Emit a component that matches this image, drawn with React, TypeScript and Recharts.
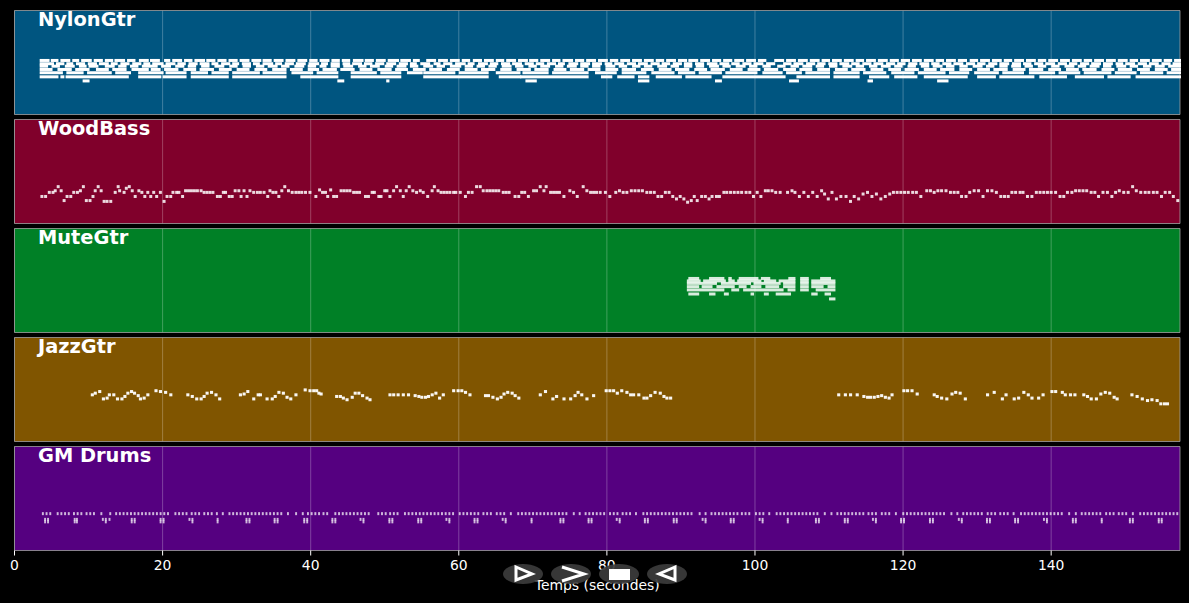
import React from 'react'
import { ScatterChart, Scatter, XAxis, YAxis, CartesianGrid, ReferenceArea } from 'recharts'

const T_MAX = 157.4
const PLOT_W = 1165.5
const PLOT_H = 104
const PX_PER_SEC = PLOT_W / T_MAX
const TICKS = [0, 20, 40, 60, 80, 100, 120, 140]

// nylon guitar, runs of notes per pitch as [start, end] in seconds
const nylon66 = [[3.4,4.6],[4.9,5.8],[6.2,7.4],[7.8,8.6],[9,10.3],[10.7,11.8],[12.2,13.2],[13.5,14.8],[15.2,16.2],[16.8,18],[18.3,19.5],[20.2,20.9],[21.3,22.5],[22.9,23.9],[24.3,25.6],[25.9,27],[27.4,28.5],[28.9,30],[30.4,31.6],[32,33.2],[33.5,34.6],[35,36.2],[36.6,37.8],[38.2,39.4],[39.8,40.8],[41.2,42.4],[42.8,43.8],[44.2,45.2],[45.7,47],[47.3,48.4],[48.8,50],[50.4,51.8],[52.1,53.4],[53.8,54.6],[55.6,56.8],[57.2,58.4],[58.8,60],[60.4,61.4],[61.9,63],[63.4,64.6],[65,66],[66.4,67.6],[68,69.2],[69.5,70.6],[71,72.2],[72.6,73.6],[74,75.3],[75.7,76.8],[77.2,78.4],[78.8,80],[80.4,81.4],[81.8,83],[83.4,84.6],[85,86.2],[86.6,87.6],[88,89.2],[89.6,90.7],[91,92.2],[92.6,93.8],[94.2,95.3],[95.7,96.8],[97.2,98.4],[98.8,100],[100.4,101.4],[102.6,103.8],[104.2,105.4],[105.8,107],[107.4,108.6],[109,110],[110.4,111.6],[112,113.2],[113.6,114.6],[115,116.2],[116.6,117.8],[118.2,119.3],[119.7,120.8],[121.2,122.4],[122.8,124],[124.4,125.4],[125.8,127],[127.4,128.5],[129,130],[130.4,131.6],[132,133.2],[133.6,134.6],[135,136.2],[136.6,137.8],[138.2,139.2],[139.6,140.8],[141.2,142.4],[142.8,144],[144.4,145.4],[145.8,147],[147.4,148.6],[149,150.2],[150.6,151.6],[152,153.2],[153.6,154.8],[155.2,156.2],[156.6,157.4]]
const nylon62 = [[3.4,5.2],[5.6,6.6],[7,7.8],[8.3,9.4],[9.9,11],[11.4,12.6],[13,13.8],[14.3,15.4],[15.9,17],[17.4,18.2],[18.6,20],[20.4,21.6],[22,23],[23.5,24.6],[25,26.2],[26.6,27.4],[27.9,29],[29.4,30.2],[30.7,31.8],[32.2,33],[33.5,34.8],[35.2,36],[36.5,37.6],[38,39.2],[39.7,41],[41.4,42.2],[42.7,43.8],[44.3,45.2],[45.6,46.8],[47.2,48.2],[48.7,49.8],[50.2,51.4],[51.9,53],[53.4,54.2],[54.8,56],[56.6,57.4],[57.9,59],[59.5,60.8],[61.2,62],[62.6,63.8],[64.2,65.2],[65.7,66.8],[67.2,68.4],[68.9,70],[70.4,71.4],[71.9,73],[73.4,74.2],[74.8,76],[76.4,77.6],[78,79.2],[79.7,80.6],[81,82.2],[82.7,83.8],[84.2,85.4],[85.9,87],[87.4,88.4],[88.9,90],[90.4,91.4],[91.9,93],[93.5,94.8],[95.2,96.4],[96.8,97.8],[98.3,99.4],[99.8,101],[101.5,102.6],[103.8,104.8],[105.2,106.4],[106.9,108],[108.4,109.4],[109.9,111],[111.4,112.6],[113,114],[114.5,115.6],[116,117.2],[117.7,118.8],[119.2,120.2],[120.7,121.8],[122.2,123.4],[123.8,124.8],[125.3,126.4],[126.8,128],[128.5,129.6],[130,131],[131.5,132.6],[133,134.2],[134.7,135.8],[136.2,137.2],[137.7,138.8],[139.2,140.4],[140.9,142],[142.4,143.4],[143.9,145],[145.4,146.6],[147,148.2],[148.7,149.6],[150,151.2],[151.7,152.8],[153.2,154.4],[154.9,156],[156.4,157.4]]
const nylon59 = [[3.4,4.4],[5,6],[6.8,8],[8.7,9.6],[10,11.2],[12.2,13.4],[14,15],[15.6,16.6],[17.2,19.2],[19.8,21],[21.7,22.8],[23.4,24.4],[25.2,26.2],[27,28.2],[29,30],[30.8,31.8],[32.6,33.6],[34.2,35.4],[36,37],[37.8,39],[39.6,40.6],[41.2,42],[42.7,43.8],[44.4,45.6],[46.4,47.4],[48,49.2],[50,51],[51.6,52.8],[53.4,54.4],[55.2,56.4],[57,58],[58.8,60.2],[60.8,61.8],[62.4,63.4],[64,65],[65.8,67],[67.6,68.6],[69.4,70.4],[71,72.2],[73,74],[74.6,75.8],[76.4,77.4],[78,79],[79.8,81],[81.6,82.6],[83.4,84.4],[85,86],[86.8,88],[88.6,89.6],[90.4,91.4],[92,93],[93.8,95],[95.6,96.6],[97.4,98.6],[99.2,100.2],[101,102],[103,104],[104.8,105.8],[106.4,107.6],[108.2,109.2],[110,111],[111.8,113],[113.6,114.6],[115.4,116.4],[117,118.2],[118.8,119.8],[120.6,121.6],[122.4,123.4],[124,125.2],[125.8,126.8],[127.6,128.6],[129.4,130.6],[131.2,132.2],[133,134],[134.6,135.8],[136.4,137.4],[138.2,139.2],[140,141],[141.8,143],[143.6,144.6],[145.2,146.4],[147,148],[148.8,150],[150.6,151.6],[152.4,153.4],[154,155.2],[155.8,157.4]]
const nylon55 = [[3.4,5],[5.8,7.6],[8.2,10],[11,12.6],[13.2,15],[15.8,18],[18.4,19.6],[20.2,22],[22.8,24.4],[25,26.8],[27.6,29.2],[30,31.6],[32.4,34],[34.8,36.6],[37.2,38.8],[39.6,41],[41.6,43.4],[44,45.8],[46.6,48.2],[49,50.8],[51.4,53],[53.8,55.4],[56,57.6],[58.4,60],[60.8,62.4],[63,64.8],[65.6,67],[67.8,69.6],[70.2,72],[72.8,74.4],[75,76.8],[77.4,79],[79.8,81.4],[82,83.8],[84.6,86.2],[87,88.6],[89.2,91],[91.8,93.4],[94,95.8],[96.6,98.2],[99,100.6],[101.2,103],[103.8,105.4],[106,107.6],[108.4,110],[110.8,112.4],[113,114.8],[115.6,117.2],[118,119.6],[120.2,122],[122.8,124.4],[125,126.8],[127.6,129.2],[130,131.6],[132.2,134],[134.8,136.4],[137,138.8],[139.6,141.2],[142,143.6],[144.2,146],[146.8,148.4],[149,150.8],[151.6,153.2],[154,155.6],[156.2,157.4]]
const nylon51 = [[3.4,6.4],[7,9.2],[9.8,13],[13.6,15.6],[16.7,20],[20.4,23.1],[23.8,26],[26.6,28.8],[29.4,33],[33.5,36.6],[37.4,40.2],[40.8,43.6],[45.4,48.8],[49.4,52.1],[53,55],[55.2,59.4],[60,63.9],[65,68.2],[68.6,72],[72.6,77.4],[78.4,81.2],[82,85.2],[86,89],[89.6,91.8],[92.4,95.4],[96,100.2],[101,103.6],[104.2,106.2],[106.8,110],[110.6,114],[114.6,117.6],[118.4,121.4],[122,125.6],[126.2,128.8],[129.6,132.8],[133.4,136.2],[137,140.4],[141,143.8],[144.4,148],[148.6,151.4],[152,155],[155.6,157.4]]
const nylon46 = [[3.4,5.8],[6.2,6.6],[6.9,15.3],[16.7,19.7],[20,23.1],[23.8,28.8],[29.4,36.6],[38.6,43.6],[45.4,52.1],[55.2,63.9],[65.4,68.3],[68.3,77.4],[79.2,80.6],[81.4,83.6],[84.2,85.6],[86.6,90],[90.6,94],[95.6,104],[105.6,110],[110.6,114],[115.4,118],[118.8,121.8],[122.8,128.6],[130,132.4],[133,137.6],[138.4,142],[143.2,147],[147.6,150.6],[151.4,157.4]]
const nylon41 = [[9.2,10],[43.6,44.4],[50.2,50.5],[69,70.4],[84.2,85.6],[94.6,95.4],[104.6,105.8],[115.2,115.8],[124.6,126]]

// wood bass, [time, pitch]
const bassNotes = [[3.5,33],[4,33],[4.5,38],[5,38],[5.3,40],[5.7,45],[6.1,40],[6.5,28],[6.9,33],[7.4,33],[7.8,38],[8.3,38],[8.7,40],[9.1,45],[9.5,28],[10,28],[10.4,33],[10.7,40],[11.1,45],[11.5,40],[11.9,27],[12.3,27],[12.8,27],[13.4,38],[13.8,45],[14,40],[14.6,38],[14.9,43],[15.3,45],[15.7,40],[16.1,33],[16.6,40],[17,38],[17.4,33],[17.8,38],[18.2,33],[18.6,38],[19,33],[19.5,38],[20,27],[20.4,33],[20.9,33],[21.2,38],[21.7,38],[22,38],[22.5,33],[22.9,40],[23.3,40],[23.7,40],[24.1,40],[24.5,40],[25,40],[25.4,38],[25.8,38],[26.2,38],[26.6,38],[27.2,33],[27.6,33],[28,38],[28.3,38],[28.8,33],[29.2,33],[29.6,40],[30.1,40],[30.4,33],[30.8,40],[31.2,33],[31.6,40],[32.1,38],[32.6,38],[33,38],[33.5,38],[34,33],[34.3,40],[34.7,38],[35.1,38],[35.5,33],[35.9,40],[36.3,45],[36.8,40],[37.3,38],[37.8,38],[38.2,38],[38.6,38],[39.1,38],[39.7,38],[40.5,33],[41,41],[41.4,38],[41.8,38],[42.1,33],[42.5,41],[42.9,33],[43.3,33],[43.9,40],[44.3,40],[44.7,40],[45.1,40],[45.6,38],[46,38],[46.4,38],[47.2,33],[47.6,33],[48.1,38],[48.4,38],[49,33],[49.3,33],[49.8,40],[50.1,40],[50.5,33],[51,40],[51.4,45],[51.9,40],[52.3,33],[52.7,40],[53.1,45],[53.6,40],[54.1,38],[54.6,40],[55,38],[55.6,33],[56.2,40],[56.5,45],[57,40],[57.4,38],[57.8,38],[58.2,38],[58.6,38],[59.1,38],[59.4,38],[60,38],[60.7,33],[61.1,38],[61.6,38],[62.2,45],[62.7,45],[63.1,40],[63.6,40],[64,40],[64.4,40],[64.8,40],[65.2,40],[65.8,38],[66.2,38],[66.6,38],[67.4,33],[67.9,33],[68.3,38],[68.7,38],[69.2,33],[69.9,40],[70.3,40],[70.8,45],[71.3,40],[71.6,45],[72.2,38],[72.6,38],[73,38],[73.4,38],[74,33],[74.8,40],[75.3,38],[75.8,33],[76.6,45],[77.1,40],[77.6,38],[78,38],[78.4,38],[78.9,38],[79.6,38],[80.2,33],[81,38],[81.5,40],[82,38],[82.5,38],[83.1,40],[83.6,40],[84.1,40],[84.6,40],[85.2,38],[85.7,38],[86.2,38],[86.7,33],[87.2,33],[87.7,38],[88.2,38],[88.7,33],[89.2,30],[89.7,33],[90.2,30],[90.7,26],[91.2,28],[91.6,33],[92,28],[92.6,33],[93.1,33],[93.6,30],[94,33],[94.6,33],[95,33],[95.6,38],[96,38],[96.5,38],[97,38],[97.5,38],[98,38],[98.6,38],[99.1,38],[99.6,33],[100.1,38],[100.6,33],[101.2,40],[101.6,40],[102.1,40],[102.6,38],[103.2,38],[104.2,38],[104.8,40],[105.2,38],[105.8,33],[106.4,38],[107,33],[107.6,38],[108.2,33],[108.8,40],[109.2,36],[109.7,30],[110.2,38],[110.8,30],[111.4,33],[112.1,33],[112.7,27],[113.2,33],[113.8,30],[114.4,36],[115,38],[115.6,33],[116.2,36],[116.8,30],[117.4,33],[118,36],[118.5,38],[119,38],[119.5,38],[120,38],[120.5,38],[121.1,38],[121.6,38],[122.2,33],[123,40],[123.5,40],[124,38],[124.5,40],[125,40],[125.6,40],[126.2,38],[126.7,38],[127.2,38],[127.7,33],[128.3,33],[128.8,38],[129.4,40],[130,40],[130.6,33],[131.2,40],[131.8,40],[132.4,38],[133,33],[133.5,33],[134,33],[134.5,38],[135,38],[135.6,38],[136,38],[136.6,33],[137.2,33],[137.8,38],[138.3,38],[138.8,38],[139.3,38],[139.8,38],[140.4,38],[141,33],[141.5,33],[142,38],[142.6,38],[143.1,40],[143.6,40],[144.1,40],[144.6,40],[145.2,38],[145.7,38],[146.2,33],[146.8,38],[147.4,38],[148,33],[148.5,38],[149,40],[149.6,38],[150.2,38],[150.8,45],[151.3,40],[151.9,38],[152.5,38],[153,38],[153.6,38],[154.1,38],[154.7,33],[155.2,38],[155.8,38],[156.3,33],[156.9,28]]

// muted guitar, runs per pitch
const mute66 = [[91,92.4],[93.8,95.8],[96.4,96.8],[97.8,100.4],[100.8,102],[104.5,105.4],[106.1,107.2],[108.8,110.2]]
const mute63 = [[90.8,92.6],[93,96],[96.4,97.2],[97.6,100.8],[101.2,102.8],[103.2,105.4],[106.1,107.2],[107.6,110.8]]
const mute60 = [[90.8,94.8],[95.4,99.4],[99.8,103.4],[103.8,105.4],[106.1,107.2],[107.6,110.8]]
const mute56 = [[90.8,92.4],[92.8,94.2],[94.8,97.2],[97.8,98.8],[99.4,100.8],[101.4,103.2],[103.8,105.4],[106.1,107.2],[107.6,109.2],[109.8,110.8]]
const mute52 = [[90.8,95.8],[96.8,97.8],[98.4,103.8],[104.4,105.4],[106.1,107.2],[108.2,110.8]]
const mute47 = [[91,92.4],[93.8,94.6],[95.8,96.4],[99.4,99.8],[101.2,101.8],[102.8,104.8],[107.6,108.4],[109.4,110.2]]
const mute41 = [[110,110.8]]

// jazz guitar, [time, pitch]
const jazzNotes = [[10.3,57],[10.7,59],[11.3,61],[11.8,52],[12.3,53],[12.6,57],[13.2,57],[13.7,52],[14.3,52],[14.7,55],[15.1,59],[15.6,61],[16,59],[16.5,56],[16.8,52],[17.3,53],[17.8,57],[18.9,62],[19.5,61],[20.2,60],[20.9,57],[23.2,57],[23.8,55],[24.4,52],[25,52],[25.4,55],[25.8,59],[26.4,60],[27,57],[27.5,52],[30.3,57],[30.8,58],[31.3,61],[32.1,52],[32.7,57],[33,57],[33.9,52],[34.6,52],[35,55],[35.5,60],[36.1,59],[36.6,54],[37.1,52],[37.8,57],[39.05,63],[39.7,62],[40.2,62],[40.6,62],[40.9,59],[41.2,58],[43.3,55],[43.8,55],[44.2,53],[44.7,51],[45.4,54],[45.8,59],[46.3,59],[46.8,56],[47.4,53],[47.8,51],[50.5,57],[51,57],[51.6,57],[52.3,57],[53,57],[53.9,56],[54.4,55],[54.8,54],[55.3,54],[55.7,55],[56.2,57],[56.7,59],[57.2,53],[57.7,57],[59.1,62],[59.7,62],[60.2,62],[60.7,60],[61.3,57],[63.4,56],[63.8,56],[64.4,54],[65,52],[65.5,54],[65.9,58],[66.4,60],[67,59],[67.4,56],[67.9,53],[70.8,57],[71.5,61],[72.5,52],[73,55],[74,52],[74.9,52],[75.5,56],[75.9,60],[76.4,57],[77.1,52],[78,56],[79.7,62],[80.2,62],[80.7,62],[81.2,59],[81.8,62],[82.5,60],[83,57],[83.4,57],[84.1,57],[84.8,53],[85.2,53],[85.7,56],[86.3,60],[87,59],[87.5,55],[87.9,53],[88.4,53],[111.1,57],[112,57],[112.7,57],[113.6,57],[114.5,55],[115,54],[115.4,54],[115.9,54],[116.4,55],[116.9,56],[117.4,54],[117.9,53],[118.3,57],[119.9,62],[120.4,62],[121,62],[121.7,58],[124,57],[124.4,55],[125,53],[125.7,52],[126.4,58],[126.9,60],[127.5,59],[128.2,52],[131.2,57],[132.1,60],[133.2,52],[133.7,57],[134.8,52],[135.4,53],[136.1,60],[136.7,57],[137.2,53],[138.1,53],[138.7,57],[139.9,61],[140.4,61],[141.3,60],[141.7,57],[142.4,57],[143,57],[144.2,57],[144.7,55],[145.2,52],[145.9,52],[146.5,58],[147.1,60],[147.7,59],[148.3,54],[148.7,52],[150.7,57],[151.4,55],[152.1,52],[152.8,50],[153.4,51],[154.1,50],[154.6,46],[155.1,46],[155.5,46]]

// drums, hits per pitch
const drumHat = [3.7,4.2,4.7,5.7,6.2,6.7,7.2,7.9,8.4,8.9,9.6,10.1,10.6,11.6,12.8,13.6,14.1,14.6,15.1,15.6,16.1,16.6,17.1,17.6,18.1,18.6,19.1,19.6,20.1,20.6,21.6,22.1,22.6,23.1,23.8,24.3,24.8,25.5,26,26.5,27.2,28,28.9,29.4,29.9,30.4,30.9,31.4,31.9,32.4,32.9,33.4,33.9,34.4,34.9,35.4,35.9,36.8,37.9,38.8,39.5,40,40.5,41,41.6,42.1,43.2,43.7,44.2,44.7,45.2,45.7,46.2,46.7,47.2,47.7,49,49.5,50,50.6,51.1,51.6,52.6,53.1,53.6,54.1,54.6,55.1,55.6,56.1,56.6,57.1,57.6,58.1,58.6,59.1,60,60.5,61,61.5,62,62.5,63.2,63.7,64.2,65,65.5,66,66.9,67.9,68.4,68.9,69.4,69.9,70.4,70.9,71.4,71.9,72.4,72.9,73.4,73.9,74.4,75.4,76.2,77,77.5,78,78.5,79,79.5,80.3,80.8,81.3,82,82.5,83,83.8,84.8,85.3,85.8,86.3,86.8,87.3,87.8,88.3,88.8,89.3,89.8,90.3,90.8,91.3,92.4,93.2,94,94.5,95,95.5,96,96.5,97,97.5,98.1,98.6,99.1,100,100.5,101,101.8,102.8,103.3,103.8,104.3,104.8,105.3,105.8,106.3,106.8,107.3,107.8,108.3,109.3,110.2,111,111.5,112,112.5,113,113.5,114,114.5,115.2,115.7,116.2,117,117.5,118,118.9,119.9,120.4,120.9,121.4,121.9,122.4,122.9,123.4,123.9,124.4,124.9,125.4,126.4,127.2,128,128.5,129,129.5,130,130.5,131.3,131.8,132.3,133,133.5,134,134.8,135.8,136.3,136.8,137.3,137.8,138.3,138.8,139.3,139.8,140.3,140.8,141.3,142.3,143.2,144,144.5,145,145.5,146,146.5,147.3,147.8,148.3,149,149.5,150,150.9,151.9,152.4,152.9,153.4,153.9,154.4,154.9,155.4,155.9,156.4,156.9]
const drumSnare = [4,4.4,8,8.3,11.8,12.2,12.7,15.7,16.1,19.6,20,23.5,23.9,27.3,31.2,31.6,35,35.4,39,39.4,42.8,43.2,46.6,47,50.5,50.9,54.4,54.8,58.2,58.6,62,62.4,65.8,66.2,69.7,73.6,74,77.4,77.8,81.2,81.6,85,85.4,88.9,89.3,92.8,93.2,96.6,97,100.5,100.9,104.3,108.1,108.5,112,112.4,115.8,116.2,119.6,120,123.5,123.9,127.4,127.8,131.2,131.6,135,135.4,138.9,139.3,142.8,143.2,146.7,150.5,150.9,154.4,154.8]
const drumKick = [4,4.4,8,8.3,12.2,15.7,16.1,19.6,20,23.9,27.3,31.2,31.6,35,35.4,39,39.4,42.8,43.2,47,50.5,50.9,54.4,54.8,58.6,62,62.4,66.2,69.7,73.6,74,77.4,77.8,81.6,85,85.4,88.9,89.3,93.2,96.6,97,100.9,104.3,108.1,108.5,112,112.4,116.2,119.6,120,123.5,123.9,127.8,131.2,131.6,135,135.4,139.3,142.8,143.2,146.7,150.5,150.9,154.4,154.8]

const toRuns = (p: number, runs: number[][]) => runs.map(([a, b]) => ({ t: a, p, d: b - a }))
const toHits = (p: number, hits: number[]) => hits.map((t) => ({ t, p, d: 0.26 }))

const tracks = [
  {
    name: 'NylonGtr',
    color: '#005580',
    noteOpacity: 1,
    pad: 1,
    notes: [
      ...toRuns(66, nylon66), ...toRuns(62, nylon62), ...toRuns(59, nylon59), ...toRuns(55, nylon55),
      ...toRuns(51, nylon51), ...toRuns(46, nylon46), ...toRuns(41, nylon41),
    ],
  },
  { name: 'WoodBass', color: '#80002b', noteOpacity: 0.85, pad: 0, notes: bassNotes.map(([t, p]) => ({ t, p, d: 0.4 })) },
  {
    name: 'MuteGtr',
    color: '#008026',
    noteOpacity: 0.85,
    pad: 0.5,
    notes: [
      ...toRuns(66, mute66), ...toRuns(63, mute63), ...toRuns(60, mute60), ...toRuns(56, mute56),
      ...toRuns(52, mute52), ...toRuns(47, mute47), ...toRuns(41, mute41),
    ],
  },
  { name: 'JazzGtr', color: '#805500', noteOpacity: 0.95, pad: 0, notes: jazzNotes.map(([t, p]) => ({ t, p, d: 0.42 })) },
  {
    name: 'GM Drums',
    color: '#550080',
    noteOpacity: 0.72,
    pad: 0,
    notes: [...toHits(45, drumHat), ...toHits(38, drumSnare), ...toHits(35, drumKick)],
  },
]

function Track({ track, top, last }: { track: any; top: number; last: boolean }) {
  const axisH = last ? 50 : 0
  const NoteShape = (props: any) => {
    const { cx, cy, payload } = props
    return (
      <rect
        x={cx}
        y={cy - 1.5}
        width={payload.d * PX_PER_SEC + track.pad}
        height={3}
        fill="#ffffff"
        fillOpacity={track.noteOpacity}
      />
    )
  }
  return (
    <div style={{ position: 'absolute', left: 4, top: top - 1 }}>
      <ScatterChart
        width={PLOT_W + 11.5}
        height={PLOT_H + 1.5 + (last ? axisH : 1)}
        margin={{ top: 1.5, right: 1, left: 10.5, bottom: last ? 0 : 1 }}
      >
        <CartesianGrid horizontal={false} verticalValues={TICKS} fill={track.color} fillOpacity={1} stroke="#ffffff" strokeOpacity={0.25} />
        <ReferenceArea x1={0} x2={T_MAX} y1={0} y2={127} fill="none" stroke="#a0a0a0" strokeOpacity={0.8} />
        <XAxis
          type="number"
          dataKey="t"
          domain={[0, T_MAX]}
          ticks={TICKS}
          interval={0}
          hide={!last}
          height={axisH}
          axisLine={false}
          tickLine={{ stroke: '#ffffff' }}
          tick={{ fill: '#ffffff', fontSize: 13.9, fontFamily: 'DejaVu Sans' }}
          tickSize={5}
          tickMargin={5}
          label={{ value: 'Temps (secondes)', position: 'insideBottom', offset: 11, fill: '#ffffff', fontSize: 13.9, fontFamily: 'DejaVu Sans' }}
        />
        <YAxis type="number" dataKey="p" domain={[0, 127]} hide />
        <Scatter data={track.notes} shape={NoteShape} isAnimationActive={false} />
      </ScatterChart>
      <div
        style={{
          position: 'absolute', left: 34, top: 0, color: '#fff', fontFamily: 'DejaVu Sans',
          fontWeight: 'bold', fontSize: 19.4, lineHeight: '22px', whiteSpace: 'nowrap',
        }}
      >
        {track.name}
      </div>
    </div>
  )
}

function PlayerButtons() {
  return (
    <svg width={1189} height={603} style={{ position: 'absolute', left: 0, top: 0, pointerEvents: 'none' }}>
      {[523, 571, 619, 667].map((cx) => (
        <ellipse key={cx} cx={cx} cy={574} rx={20} ry={10} fill="#3c3c3c" fillOpacity={0.92} />
      ))}
      <path d="M516 567 L532 574 L516 580 Z" fill="none" stroke="#fff" strokeWidth={3} />
      <path d="M562 567 L584 574 L562 581" fill="none" stroke="#fff" strokeWidth={3} />
      <rect x={609} y={569} width={21} height={11} fill="#fff" />
      <path d="M675 567 L659 574 L675 580 Z" fill="none" stroke="#fff" strokeWidth={3} />
    </svg>
  )
}

export default function App() {
  return (
    <div style={{ position: 'fixed', left: 0, top: 0, width: 1189, height: 603, background: '#000', overflow: 'hidden' }}>
      {tracks.map((track, i) => (
        <Track key={track.name} track={track} top={10 + i * 109} last={i === tracks.length - 1} />
      ))}
      <PlayerButtons />
    </div>
  )
}
